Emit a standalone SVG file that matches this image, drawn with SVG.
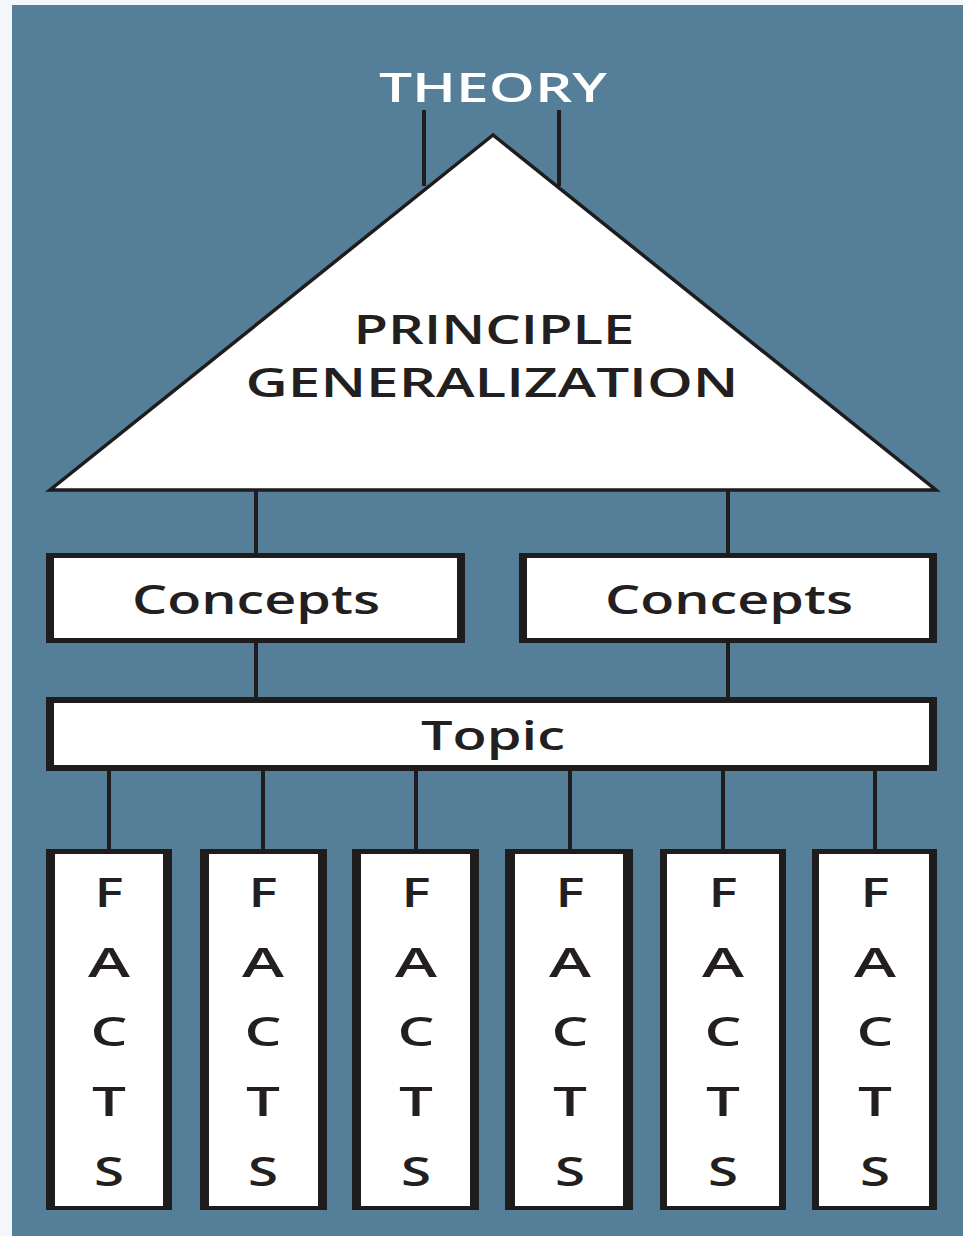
<svg xmlns="http://www.w3.org/2000/svg" width="963" height="1236" viewBox="0 0 963 1236">
<style>
.lbl{font-family:"Open Sans","Liberation Sans",sans-serif;font-weight:600;fill:#231f20;text-anchor:middle;}
.w{fill:#ffffff;}
.bd{fill:#1e1c1d;}
.in{fill:#ffffff;}
.ln{stroke:#1e1c1d;stroke-width:4;fill:none;}
.fl{font-size:40px;}
</style>
<rect x="0" y="0" width="963" height="1236" fill="#f4f7f9"/>
<rect x="12" y="5" width="951" height="1231" fill="#557f98"/>

<g id="connectors">
  <line class="ln" x1="424" y1="110" x2="424" y2="186"/>
  <line class="ln" x1="559" y1="110" x2="559" y2="186"/>
  <line class="ln" x1="256" y1="490" x2="256" y2="555"/>
  <line class="ln" x1="728" y1="490" x2="728" y2="555"/>
  <line class="ln" x1="256" y1="641" x2="256" y2="699"/>
  <line class="ln" x1="728" y1="641" x2="728" y2="699"/>
  <line class="ln" x1="109" y1="768" x2="109" y2="851"/>
  <line class="ln" x1="263" y1="768" x2="263" y2="851"/>
  <line class="ln" x1="416" y1="768" x2="416" y2="851"/>
  <line class="ln" x1="570" y1="768" x2="570" y2="851"/>
  <line class="ln" x1="723" y1="768" x2="723" y2="851"/>
  <line class="ln" x1="875" y1="768" x2="875" y2="851"/>
</g>

<g id="theory">
  <text class="lbl" x="493" y="102" font-size="40" textLength="228" lengthAdjust="spacingAndGlyphs" style="fill:#ffffff">THEORY</text>
</g>

<g id="principle">
  <polygon points="493,135 50,490 936,490" fill="#ffffff" stroke="#1e1c1d" stroke-width="3.5" stroke-linejoin="miter"/>
  <text class="lbl" x="494" y="344" font-size="39" textLength="281" lengthAdjust="spacingAndGlyphs">PRINCIPLE</text>
  <text class="lbl" x="492" y="397" font-size="39" textLength="493" lengthAdjust="spacingAndGlyphs">GENERALIZATION</text>
</g>

<g id="concepts-left">
  <rect class="bd" x="46" y="553" width="419" height="90"/>
  <rect class="in" x="54" y="558" width="403" height="80"/>
  <text class="lbl" x="256" y="614" font-size="40" textLength="248" lengthAdjust="spacingAndGlyphs">Concepts</text>
</g>

<g id="concepts-right">
  <rect class="bd" x="519" y="553" width="418" height="90"/>
  <rect class="in" x="527" y="558" width="402" height="80"/>
  <text class="lbl" x="729" y="614" font-size="40" textLength="248" lengthAdjust="spacingAndGlyphs">Concepts</text>
</g>

<g id="topic">
  <rect class="bd" x="46" y="697" width="891" height="74"/>
  <rect class="in" x="54" y="703" width="875" height="62"/>
  <text class="lbl" x="493" y="750" font-size="40" textLength="144" lengthAdjust="spacingAndGlyphs">Topic</text>
</g>

<g id="facts-1">
  <rect class="bd" x="46" y="849" width="126" height="361"/>
  <rect class="in" x="55" y="854" width="108" height="352"/>
  <text class="lbl fl" x="109" y="907" textLength="29" lengthAdjust="spacingAndGlyphs">F</text>
  <text class="lbl fl" x="109" y="977" textLength="42" lengthAdjust="spacingAndGlyphs">A</text>
  <text class="lbl fl" x="109" y="1046" textLength="37" lengthAdjust="spacingAndGlyphs">C</text>
  <text class="lbl fl" x="109" y="1116" textLength="34" lengthAdjust="spacingAndGlyphs">T</text>
  <text class="lbl fl" x="109" y="1186" textLength="30" lengthAdjust="spacingAndGlyphs">S</text>
</g>

<g id="facts-2">
  <rect class="bd" x="200" y="849" width="127" height="361"/>
  <rect class="in" x="209" y="854" width="109" height="352"/>
  <text class="lbl fl" x="263" y="907" textLength="29" lengthAdjust="spacingAndGlyphs">F</text>
  <text class="lbl fl" x="263" y="977" textLength="42" lengthAdjust="spacingAndGlyphs">A</text>
  <text class="lbl fl" x="263" y="1046" textLength="37" lengthAdjust="spacingAndGlyphs">C</text>
  <text class="lbl fl" x="263" y="1116" textLength="34" lengthAdjust="spacingAndGlyphs">T</text>
  <text class="lbl fl" x="263" y="1186" textLength="30" lengthAdjust="spacingAndGlyphs">S</text>
</g>

<g id="facts-3">
  <rect class="bd" x="352" y="849" width="127" height="361"/>
  <rect class="in" x="361" y="854" width="109" height="352"/>
  <text class="lbl fl" x="416" y="907" textLength="29" lengthAdjust="spacingAndGlyphs">F</text>
  <text class="lbl fl" x="416" y="977" textLength="42" lengthAdjust="spacingAndGlyphs">A</text>
  <text class="lbl fl" x="416" y="1046" textLength="37" lengthAdjust="spacingAndGlyphs">C</text>
  <text class="lbl fl" x="416" y="1116" textLength="34" lengthAdjust="spacingAndGlyphs">T</text>
  <text class="lbl fl" x="416" y="1186" textLength="30" lengthAdjust="spacingAndGlyphs">S</text>
</g>

<g id="facts-4">
  <rect class="bd" x="505" y="849" width="128" height="361"/>
  <rect class="in" x="515" y="854" width="108" height="352"/>
  <text class="lbl fl" x="570" y="907" textLength="29" lengthAdjust="spacingAndGlyphs">F</text>
  <text class="lbl fl" x="570" y="977" textLength="42" lengthAdjust="spacingAndGlyphs">A</text>
  <text class="lbl fl" x="570" y="1046" textLength="37" lengthAdjust="spacingAndGlyphs">C</text>
  <text class="lbl fl" x="570" y="1116" textLength="34" lengthAdjust="spacingAndGlyphs">T</text>
  <text class="lbl fl" x="570" y="1186" textLength="30" lengthAdjust="spacingAndGlyphs">S</text>
</g>

<g id="facts-5">
  <rect class="bd" x="660" y="849" width="126" height="361"/>
  <rect class="in" x="667" y="854" width="112" height="352"/>
  <text class="lbl fl" x="723" y="907" textLength="29" lengthAdjust="spacingAndGlyphs">F</text>
  <text class="lbl fl" x="723" y="977" textLength="42" lengthAdjust="spacingAndGlyphs">A</text>
  <text class="lbl fl" x="723" y="1046" textLength="37" lengthAdjust="spacingAndGlyphs">C</text>
  <text class="lbl fl" x="723" y="1116" textLength="34" lengthAdjust="spacingAndGlyphs">T</text>
  <text class="lbl fl" x="723" y="1186" textLength="30" lengthAdjust="spacingAndGlyphs">S</text>
</g>

<g id="facts-6">
  <rect class="bd" x="812" y="849" width="125" height="361"/>
  <rect class="in" x="819" y="854" width="110" height="352"/>
  <text class="lbl fl" x="875" y="907" textLength="29" lengthAdjust="spacingAndGlyphs">F</text>
  <text class="lbl fl" x="875" y="977" textLength="42" lengthAdjust="spacingAndGlyphs">A</text>
  <text class="lbl fl" x="875" y="1046" textLength="37" lengthAdjust="spacingAndGlyphs">C</text>
  <text class="lbl fl" x="875" y="1116" textLength="34" lengthAdjust="spacingAndGlyphs">T</text>
  <text class="lbl fl" x="875" y="1186" textLength="30" lengthAdjust="spacingAndGlyphs">S</text>
</g>
</svg>
